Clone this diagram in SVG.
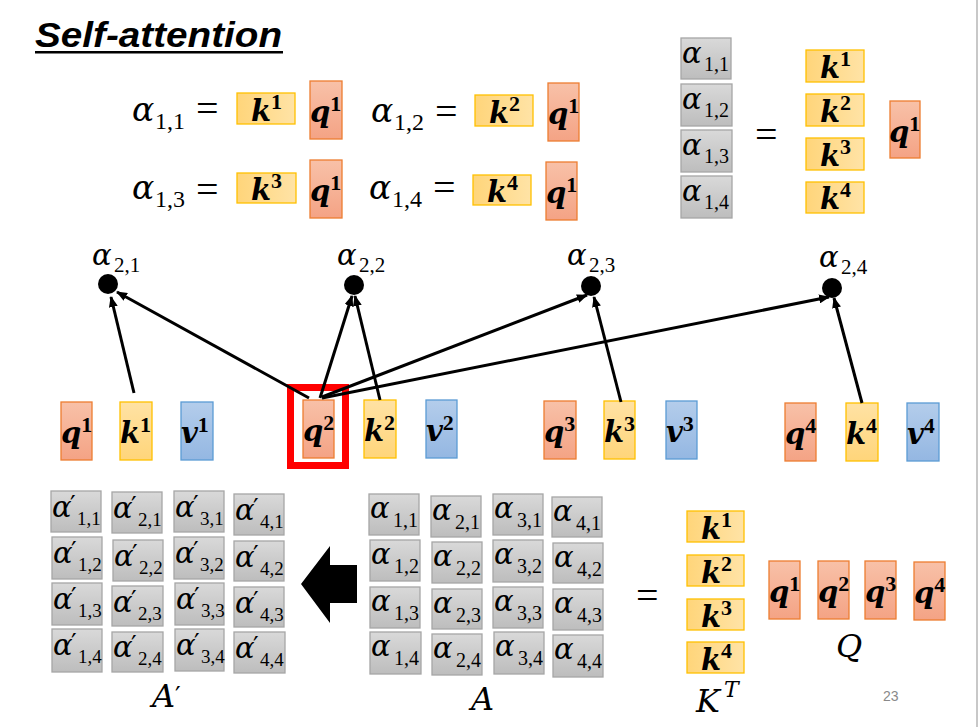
<svg xmlns="http://www.w3.org/2000/svg" width="979" height="727" viewBox="0 0 979 727">
<defs>
<linearGradient id="gq" x1="0" y1="0" x2="0" y2="1"><stop offset="0" stop-color="#F8C1A8"/><stop offset="1" stop-color="#F4A385"/></linearGradient>
<linearGradient id="gk" x1="0" y1="0" x2="0" y2="1"><stop offset="0" stop-color="#FFE2A4"/><stop offset="1" stop-color="#FFD57A"/></linearGradient>
<linearGradient id="gkh" x1="0" y1="0" x2="1" y2="0"><stop offset="0" stop-color="#FFD57A"/><stop offset="1" stop-color="#FFE3A6"/></linearGradient>
<linearGradient id="gv" x1="0" y1="0" x2="0" y2="1"><stop offset="0" stop-color="#B4CDEB"/><stop offset="1" stop-color="#94B7E2"/></linearGradient>
<linearGradient id="gg" x1="0" y1="0" x2="0" y2="1"><stop offset="0" stop-color="#D9D9D9"/><stop offset="1" stop-color="#BDBDBD"/></linearGradient>
<marker id="ah" markerWidth="11" markerHeight="9" refX="10" refY="4.5" orient="auto" markerUnits="userSpaceOnUse"><path d="M0,0 L11,4.5 L0,9 z" fill="#000"/></marker>
</defs>
<style>
.q{fill:url(#gq);stroke:#ED7D31;stroke-width:1.3}
.k{fill:url(#gk);stroke:#FFC000;stroke-width:1.3}
.kh{fill:url(#gkh);stroke:#FFC000;stroke-width:1.3}
.v{fill:url(#gv);stroke:#5B9BD5;stroke-width:1.3}
.g{fill:url(#gg);stroke:#A6A6A6;stroke-width:1.3}
.bv{font-family:"DejaVu Serif","Liberation Serif",serif;font-style:italic;font-weight:bold;font-size:29px;fill:#000}
.sp{font-family:"Liberation Serif",serif;font-style:normal;font-weight:bold;font-size:22px}
.al{font-family:"DejaVu Serif","Liberation Serif",serif;font-style:italic;font-size:29px;fill:#000}
.sb{font-family:"Liberation Serif",serif;font-style:normal;font-size:20px}
.sbp{font-family:"Liberation Serif",serif;font-style:normal;font-size:19px}
.al2{font-family:"DejaVu Serif","Liberation Serif",serif;font-style:italic;font-size:33px;fill:#000}
.sb2{font-family:"Liberation Serif",serif;font-style:normal;font-size:24px}
.al3{font-family:"DejaVu Serif","Liberation Serif",serif;font-style:italic;font-size:29px;fill:#000}
.sb3{font-family:"Liberation Serif",serif;font-style:normal;font-size:21px}
.pr{font-family:"DejaVu Serif",serif;font-style:normal;font-size:25px}
.eq{font-family:"Liberation Serif","DejaVu Serif",serif;font-size:40px;fill:#000}
.lbl{font-family:"DejaVu Serif","Liberation Serif",serif;font-style:italic;font-size:32px;fill:#000}
.conn line{stroke:#000;stroke-width:3;marker-end:url(#ah)}
</style>
<rect width="979" height="727" fill="#fff"/>
<line x1="977" y1="0" x2="977" y2="727" stroke="#C8C8C8" stroke-width="2"/>

<g id="title">
<text x="35" y="47" font-family="Liberation Sans, Arial, sans-serif" font-weight="bold" font-style="italic" font-size="35" textLength="247" lengthAdjust="spacingAndGlyphs">Self-attention</text>
<rect x="35" y="51" width="248" height="2.5" fill="#000"/>
</g>

<g id="eq11">
<text class="al2" x="132" y="121">α<tspan class="sb2" x="155" y="129">1,1</tspan></text>
<text class="eq" x="196" y="122">=</text>
<rect class="kh" x="237" y="93" width="58" height="31"/><text class="bv" x="251" y="121">k<tspan class="sp" dy="-12">1</tspan></text>
<rect class="q" x="310" y="81" width="32" height="58"/><text class="bv" x="310" y="122">q<tspan class="sp" dy="-11">1</tspan></text>
</g>
<g id="eq12">
<text class="al2" x="371" y="122">α<tspan class="sb2" x="394" y="130">1,2</tspan></text>
<text class="eq" x="435" y="125">=</text>
<rect class="kh" x="475" y="95" width="58" height="31"/><text class="bv" x="489" y="123">k<tspan class="sp" dy="-12">2</tspan></text>
<rect class="q" x="548" y="83" width="31" height="58"/><text class="bv" x="548" y="124">q<tspan class="sp" dy="-11">1</tspan></text>
</g>
<g id="eq13">
<text class="al2" x="132" y="199">α<tspan class="sb2" x="155" y="207">1,3</tspan></text>
<text class="eq" x="196" y="203">=</text>
<rect class="kh" x="237" y="173" width="59" height="30"/><text class="bv" x="251" y="200">k<tspan class="sp" dy="-12">3</tspan></text>
<rect class="q" x="310" y="160" width="32" height="58"/><text class="bv" x="310" y="201">q<tspan class="sp" dy="-11">1</tspan></text>
</g>
<g id="eq14">
<text class="al2" x="369" y="199">α<tspan class="sb2" x="392" y="207">1,4</tspan></text>
<text class="eq" x="433" y="201">=</text>
<rect class="kh" x="473" y="175" width="58" height="30"/><text class="bv" x="487" y="202">k<tspan class="sp" dy="-12">4</tspan></text>
<rect class="q" x="546" y="162" width="31" height="58"/><text class="bv" x="546" y="203">q<tspan class="sp" dy="-11">1</tspan></text>
</g>

<g id="topright">
<rect class="g" x="681" y="38" width="50" height="41"/><text class="al" x="682" y="63">α<tspan class="sb" x="704" y="71">1,1</tspan></text>
<rect class="g" x="681" y="84" width="51" height="42"/><text class="al" x="682" y="109">α<tspan class="sb" x="704" y="117">1,2</tspan></text>
<rect class="g" x="681" y="130" width="51" height="42"/><text class="al" x="682" y="155">α<tspan class="sb" x="704" y="163">1,3</tspan></text>
<rect class="g" x="681" y="176" width="51" height="42"/><text class="al" x="682" y="201">α<tspan class="sb" x="704" y="209">1,4</tspan></text>
<text class="eq" x="755" y="148">=</text>
<rect class="kh" x="806" y="50" width="58" height="32"/><text class="bv" x="820" y="78">k<tspan class="sp" dy="-12">1</tspan></text>
<rect class="kh" x="806" y="94" width="58" height="32"/><text class="bv" x="820" y="122">k<tspan class="sp" dy="-12">2</tspan></text>
<rect class="kh" x="806" y="138" width="58" height="32"/><text class="bv" x="820" y="166">k<tspan class="sp" dy="-12">3</tspan></text>
<rect class="kh" x="806" y="182" width="58" height="31"/><text class="bv" x="820" y="209">k<tspan class="sp" dy="-12">4</tspan></text>
<rect class="q" x="890" y="101" width="30" height="57"/><text class="bv" x="889" y="142">q<tspan class="sp" dy="-11">1</tspan></text>
</g>

<g id="a21"><circle cx="108" cy="284" r="10"/><text class="al3" x="92" y="265">α<tspan class="sb3" x="114" y="272">2,1</tspan></text></g>
<g id="a22"><circle cx="354" cy="285" r="10"/><text class="al3" x="337" y="265">α<tspan class="sb3" x="359" y="272">2,2</tspan></text></g>
<g id="a23"><circle cx="591" cy="286" r="10"/><text class="al3" x="567" y="265">α<tspan class="sb3" x="589" y="272">2,3</tspan></text></g>
<g id="a24"><circle cx="832" cy="288" r="10"/><text class="al3" x="819" y="267">α<tspan class="sb3" x="841" y="274">2,4</tspan></text></g>

<g id="x1">
<rect class="q" x="61" y="402" width="31" height="58"/><text class="bv" x="61" y="443">q<tspan class="sp" dy="-11">1</tspan></text>
<rect class="k" x="120" y="402" width="32" height="58"/><text class="bv" x="120" y="443">k<tspan class="sp" dy="-11">1</tspan></text>
<rect class="v" x="181" y="402" width="32" height="58"/><text class="bv" x="181" y="443">v<tspan class="sp" dy="-11">1</tspan></text>
</g>
<g id="x2">
<rect x="290.5" y="387.5" width="55" height="78" fill="none" stroke="#FF0000" stroke-width="7"/>
<rect class="q" x="303" y="400" width="31" height="58"/><text class="bv" x="303" y="441">q<tspan class="sp" dy="-11">2</tspan></text>
<rect class="k" x="364" y="400" width="32" height="58"/><text class="bv" x="364" y="441">k<tspan class="sp" dy="-11">2</tspan></text>
<rect class="v" x="426" y="400" width="31" height="58"/><text class="bv" x="426" y="441">v<tspan class="sp" dy="-11">2</tspan></text>
</g>
<g id="x3">
<rect class="q" x="544" y="401" width="32" height="58"/><text class="bv" x="544" y="442">q<tspan class="sp" dy="-11">3</tspan></text>
<rect class="k" x="604" y="401" width="31" height="58"/><text class="bv" x="604" y="442">k<tspan class="sp" dy="-11">3</tspan></text>
<rect class="v" x="666" y="401" width="31" height="58"/><text class="bv" x="666" y="442">v<tspan class="sp" dy="-11">3</tspan></text>
</g>
<g id="x4">
<rect class="q" x="785" y="403" width="31" height="58"/><text class="bv" x="785" y="444">q<tspan class="sp" dy="-11">4</tspan></text>
<rect class="k" x="846" y="403" width="32" height="58"/><text class="bv" x="846" y="444">k<tspan class="sp" dy="-11">4</tspan></text>
<rect class="v" x="907" y="403" width="32" height="58"/><text class="bv" x="907" y="444">v<tspan class="sp" dy="-11">4</tspan></text>
</g>

<g id="connectors" class="conn">
<line x1="134" y1="393" x2="111" y2="297"/>
<line x1="309" y1="398" x2="117" y2="292"/>
<line x1="320" y1="398" x2="352" y2="296"/>
<line x1="380" y1="400" x2="355" y2="296"/>
<line x1="322" y1="397" x2="587" y2="295"/>
<line x1="322" y1="398" x2="829" y2="297"/>
<line x1="621" y1="402" x2="594" y2="297"/>
<line x1="862" y1="403" x2="834" y2="298"/>
</g>

<g id="Aprime">
<rect class="g" x="51" y="491" width="50" height="41"/><text class="al" x="52" y="517">α<tspan class="pr" x="70" y="513">′</tspan><tspan class="sbp" x="77" y="525">1,1</tspan></text>
<rect class="g" x="112" y="492" width="50" height="41"/><text class="al" x="113" y="518">α<tspan class="pr" x="131" y="514">′</tspan><tspan class="sbp" x="138" y="526">2,1</tspan></text>
<rect class="g" x="174" y="491" width="50" height="41"/><text class="al" x="175" y="517">α<tspan class="pr" x="193" y="513">′</tspan><tspan class="sbp" x="200" y="525">3,1</tspan></text>
<rect class="g" x="234" y="494" width="50" height="41"/><text class="al" x="235" y="520">α<tspan class="pr" x="253" y="516">′</tspan><tspan class="sbp" x="260" y="528">4,1</tspan></text>
<rect class="g" x="52" y="537" width="50" height="42"/><text class="al" x="53" y="563">α<tspan class="pr" x="71" y="559">′</tspan><tspan class="sbp" x="78" y="571">1,2</tspan></text>
<rect class="g" x="113" y="540" width="50" height="41"/><text class="al" x="114" y="566">α<tspan class="pr" x="132" y="562">′</tspan><tspan class="sbp" x="139" y="574">2,2</tspan></text>
<rect class="g" x="174" y="537" width="50" height="42"/><text class="al" x="175" y="563">α<tspan class="pr" x="193" y="559">′</tspan><tspan class="sbp" x="200" y="571">3,2</tspan></text>
<rect class="g" x="234" y="541" width="50" height="40"/><text class="al" x="235" y="567">α<tspan class="pr" x="253" y="563">′</tspan><tspan class="sbp" x="260" y="575">4,2</tspan></text>
<rect class="g" x="52" y="583" width="50" height="42"/><text class="al" x="53" y="609">α<tspan class="pr" x="71" y="605">′</tspan><tspan class="sbp" x="78" y="617">1,3</tspan></text>
<rect class="g" x="112" y="586" width="51" height="40"/><text class="al" x="113" y="612">α<tspan class="pr" x="131" y="608">′</tspan><tspan class="sbp" x="138" y="620">2,3</tspan></text>
<rect class="g" x="175" y="583" width="49" height="42"/><text class="al" x="176" y="609">α<tspan class="pr" x="194" y="605">′</tspan><tspan class="sbp" x="201" y="617">3,3</tspan></text>
<rect class="g" x="234" y="587" width="50" height="40"/><text class="al" x="235" y="613">α<tspan class="pr" x="253" y="609">′</tspan><tspan class="sbp" x="260" y="621">4,3</tspan></text>
<rect class="g" x="52" y="629" width="50" height="43"/><text class="al" x="53" y="655">α<tspan class="pr" x="71" y="651">′</tspan><tspan class="sbp" x="78" y="663">1,4</tspan></text>
<rect class="g" x="112" y="632" width="51" height="40"/><text class="al" x="113" y="657">α<tspan class="pr" x="131" y="653">′</tspan><tspan class="sbp" x="138" y="665">2,4</tspan></text>
<rect class="g" x="175" y="629" width="49" height="42"/><text class="al" x="176" y="655">α<tspan class="pr" x="194" y="651">′</tspan><tspan class="sbp" x="201" y="663">3,4</tspan></text>
<rect class="g" x="234" y="632" width="51" height="41"/><text class="al" x="235" y="658">α<tspan class="pr" x="253" y="654">′</tspan><tspan class="sbp" x="260" y="666">4,4</tspan></text>
<text class="lbl" x="152" y="707">A<tspan class="pr" font-size="40" dy="-3">′</tspan></text>
</g>

<g id="bigarrow"><polygon points="301,584 330,546 330,565 357,565 357,603 330,603 330,623" fill="#000"/></g>

<g id="A">
<rect class="g" x="369" y="494" width="50" height="41"/><text class="al" x="370" y="518">α<tspan class="sb" x="393" y="527">1,1</tspan></text>
<rect class="g" x="431" y="496" width="50" height="41"/><text class="al" x="432" y="520">α<tspan class="sb" x="455" y="529">2,1</tspan></text>
<rect class="g" x="493" y="494" width="50" height="41"/><text class="al" x="494" y="518">α<tspan class="sb" x="517" y="527">3,1</tspan></text>
<rect class="g" x="552" y="497" width="50" height="40"/><text class="al" x="553" y="521">α<tspan class="sb" x="576" y="530">4,1</tspan></text>
<rect class="g" x="370" y="540" width="50" height="41"/><text class="al" x="371" y="564">α<tspan class="sb" x="394" y="573">1,2</tspan></text>
<rect class="g" x="432" y="542" width="50" height="41"/><text class="al" x="433" y="566">α<tspan class="sb" x="456" y="575">2,2</tspan></text>
<rect class="g" x="493" y="540" width="50" height="42"/><text class="al" x="494" y="564">α<tspan class="sb" x="517" y="573">3,2</tspan></text>
<rect class="g" x="553" y="543" width="50" height="40"/><text class="al" x="554" y="567">α<tspan class="sb" x="577" y="576">4,2</tspan></text>
<rect class="g" x="370" y="587" width="50" height="41"/><text class="al" x="371" y="611">α<tspan class="sb" x="394" y="620">1,3</tspan></text>
<rect class="g" x="432" y="589" width="50" height="40"/><text class="al" x="433" y="613">α<tspan class="sb" x="456" y="622">2,3</tspan></text>
<rect class="g" x="493" y="587" width="50" height="41"/><text class="al" x="494" y="611">α<tspan class="sb" x="517" y="620">3,3</tspan></text>
<rect class="g" x="553" y="589" width="50" height="41"/><text class="al" x="554" y="613">α<tspan class="sb" x="577" y="622">4,3</tspan></text>
<rect class="g" x="370" y="632" width="51" height="42"/><text class="al" x="371" y="656">α<tspan class="sb" x="394" y="665">1,4</tspan></text>
<rect class="g" x="432" y="634" width="50" height="41"/><text class="al" x="433" y="658">α<tspan class="sb" x="456" y="667">2,4</tspan></text>
<rect class="g" x="494" y="632" width="50" height="42"/><text class="al" x="495" y="656">α<tspan class="sb" x="518" y="665">3,4</tspan></text>
<rect class="g" x="553" y="635" width="50" height="42"/><text class="al" x="554" y="659">α<tspan class="sb" x="577" y="668">4,4</tspan></text>
<text class="lbl" x="471" y="710">A</text>
</g>

<g id="eqbottom"><text class="eq" x="636" y="609">=</text></g>

<g id="KT">
<rect class="kh" x="687" y="511" width="57" height="31"/><text class="bv" x="701" y="539">k<tspan class="sp" dy="-12">1</tspan></text>
<rect class="kh" x="687" y="555" width="57" height="31"/><text class="bv" x="701" y="583">k<tspan class="sp" dy="-12">2</tspan></text>
<rect class="kh" x="687" y="599" width="57" height="31"/><text class="bv" x="701" y="627">k<tspan class="sp" dy="-12">3</tspan></text>
<rect class="kh" x="687" y="642" width="57" height="31"/><text class="bv" x="701" y="670">k<tspan class="sp" dy="-12">4</tspan></text>
<text class="lbl" x="696" y="712">K<tspan font-size="22" x="724" y="697">T</tspan></text>
</g>

<g id="Q">
<rect class="q" x="769" y="561" width="31" height="58"/><text class="bv" x="769" y="602">q<tspan class="sp" dy="-11">1</tspan></text>
<rect class="q" x="818" y="561" width="31" height="58"/><text class="bv" x="818" y="602">q<tspan class="sp" dy="-11">2</tspan></text>
<rect class="q" x="865" y="561" width="31" height="58"/><text class="bv" x="865" y="602">q<tspan class="sp" dy="-11">3</tspan></text>
<rect class="q" x="914" y="562" width="31" height="58"/><text class="bv" x="914" y="603">q<tspan class="sp" dy="-11">4</tspan></text>
<text class="lbl" x="836" y="657">Q</text>
</g>

<g id="pagenum"><text x="883" y="701" font-family="Liberation Sans, Arial, sans-serif" font-size="14" fill="#898989">23</text></g>
</svg>
